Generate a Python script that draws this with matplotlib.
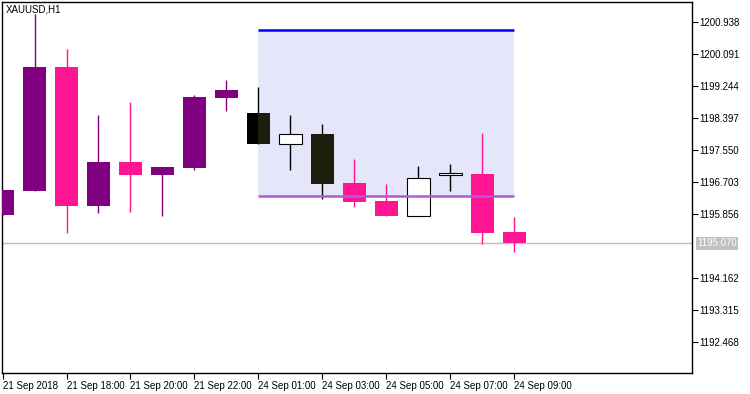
import matplotlib.pyplot as plt
from matplotlib.patches import Rectangle
import numpy as np

plt.rcParams['font.family'] = ['Liberation Sans', 'DejaVu Sans']

# XAUUSD H1 bars, 21 Sep 16:00 .. 24 Sep 09:00
opens  = [1195.830, 1196.465, 1199.739, 1196.068, 1197.224, 1196.888, 1197.074, 1198.926, 1198.521,
          1197.709, 1197.965, 1196.669, 1196.192, 1195.803, 1196.872, 1196.907, 1195.372]
highs  = [1196.483, 1201.142, 1200.215, 1198.468, 1198.813, 1197.092, 1198.990, 1199.395, 1199.210,
          1198.468, 1198.230, 1197.304, 1196.642, 1197.118, 1197.171, 1197.992, 1195.769]
lows   = [1195.830, 1196.465, 1195.337, 1195.867, 1195.909, 1195.803, 1197.021, 1198.582, 1197.709,
          1197.021, 1196.253, 1196.041, 1195.803, 1195.803, 1196.465, 1195.062, 1194.850]
closes = [1196.483, 1199.739, 1196.068, 1197.224, 1196.888, 1197.092, 1198.945, 1199.130, 1197.709,
          1197.957, 1196.650, 1196.173, 1195.803, 1196.793, 1196.933, 1195.353, 1195.070]
# candle colour group: p = purple, k = deep pink, d = dark, w = white
groups = ['p', 'p', 'k', 'p', 'k', 'p', 'p', 'p', 'd', 'w', 'd', 'k', 'k', 'w', 'w', 'k', 'k']

box_start, box_end = 8, 16
box_high, box_low = 1200.710, 1196.317
last_price = 1195.070

yticks = [1200.938, 1200.091, 1199.244, 1198.397, 1197.550, 1196.703, 1195.856,
          1194.162, 1193.315, 1192.468]
ytick_labels = ['1200.938', '1200.091', '1199.244', '1198.397', '1197.550', '1196.703',
                '1195.856', '1194.162', '1193.315', '1192.468']
xtick_pos = [0, 2, 4, 6, 8, 10, 12, 14, 16]
xtick_labels = ['21 Sep 2018', '21 Sep 18:00', '21 Sep 20:00', '21 Sep 22:00', '24 Sep 01:00',
                '24 Sep 03:00', '24 Sep 05:00', '24 Sep 07:00', '24 Sep 09:00']

colors = {'p': '#800080', 'k': '#ff1493', 'd': '#000000', 'w': '#ffffff'}

fig = plt.figure(figsize=(7.5, 3.94), dpi=100)
ax = fig.add_axes([2 / 750, 1 - 373 / 394, 690 / 750, 371 / 394])

# shaded range box
box = Rectangle((box_start, box_low), box_end - box_start, box_high - box_low,
                facecolor='#e6e6fa', edgecolor='none', zorder=0)
ax.add_patch(box)
ax.hlines(box_high, box_start, box_end, color='#0000ff', lw=1.8, zorder=4)
ax.hlines(box_low, box_start, box_end, color='#b05cd0', lw=1.8, zorder=4)

ax.axhline(last_price, color='#c0c0c0', lw=1, zorder=1)

w = 0.72
for i in range(len(opens)):
    g = groups[i]
    o, h, l, c = opens[i], highs[i], lows[i], closes[i]
    wick_col = 'black' if g in 'dw' else colors[g]
    ax.vlines(i, l, h, color=wick_col, lw=1, zorder=2)
    lo, hi = min(o, c), max(o, c)
    ec = 'black' if g == 'w' else 'none'
    ax.add_patch(Rectangle((i - w / 2, lo), w, hi - lo, facecolor=colors[g],
                           edgecolor=ec, lw=0.8, zorder=3))
    if g == 'd':
        inner = Rectangle((i - w / 2, lo), w, hi - lo, facecolor='#1e1e0c',
                          edgecolor='none', zorder=3.1)
        ax.add_patch(inner)
        inner.set_clip_path(box)

ax.set_xlim(-0.016, 21.55)
ax.set_ylim(1191.639, 1201.459)

ax.yaxis.tick_right()
ax.set_yticks(yticks)
ax.set_yticklabels(ytick_labels)
ax.set_xticks(xtick_pos)
ax.set_xticklabels(xtick_labels, ha='left')
ax.tick_params(axis='both', direction='out', length=4, width=0.8, labelsize=7, pad=1.5,
               colors='black')
ax.tick_params(axis='x', pad=2)
for s in ax.spines.values():
    s.set_linewidth(1)

ax.annotate('1195.070', xy=(1.0, last_price), xycoords=('axes fraction', 'data'),
            xytext=(4, 0), textcoords='offset points', va='center', ha='left',
            fontsize=7, color='white',
            bbox=dict(boxstyle='square,pad=0.12', facecolor='#c0c0c0', edgecolor='none'))

ax.text(4 / 690, 1 - 3 / 371, 'XAUUSD,H1', transform=ax.transAxes, ha='left', va='top',
        fontsize=7)

fig.savefig('out.png', dpi=100)
